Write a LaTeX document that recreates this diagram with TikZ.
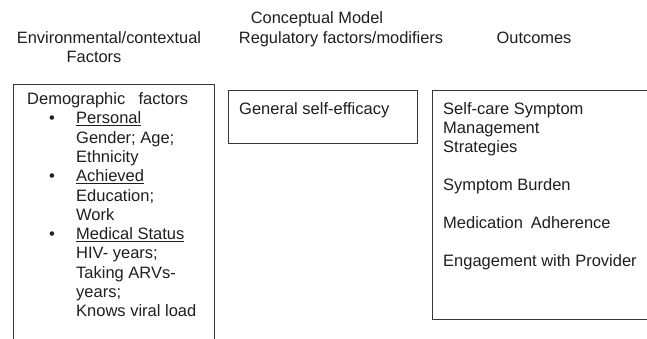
\documentclass[tikz,border=0pt]{standalone}
\usepackage{fontspec}
\setmainfont{Liberation Sans}
\begin{document}
\begin{tikzpicture}[x=1pt,y=-1pt,
  boxframe/.style={draw=black!78,line width=1.2pt,rectangle,inner sep=0pt,anchor=north west},
  txt/.style={anchor=base west,inner sep=0pt,text=black!88,font=\fontsize{16.5}{19.3}\selectfont},
  head/.style={anchor=base,inner sep=0pt,text=black!88,font=\fontsize{16.4}{19.3}\selectfont},
  bul/.style={anchor=base,inner sep=0pt,text=black!88,font=\fontsize{16.5}{19.3}\selectfont}]
\useasboundingbox[fill=white] (0,0) rectangle (647,339);
% headings
\node[head] (hcm) at (317,24) {Conceptual Model};
\node[head] (henv) at (109,44) {Environmental/contextual};
\node[head] (hfac) at (94,63) {Factors};
\node[head] (hreg) at (341,44) {Regulatory factors/modifiers};
\node[head] (hout) at (534,44) {Outcomes};
% boxes
\node[boxframe,minimum width=201pt,minimum height=280pt] (lbox) at (13,84) {};
\node[boxframe,minimum width=189pt,minimum height=53pt] (mbox) at (228,90) {};
\node[boxframe,minimum width=230pt,minimum height=229pt] (rbox) at (432,90) {};
% left box contents
\node[txt] (l1) at (27,104.5) {Demographic\hspace{0.8em}factors};
\node[bul] (b1) at (52,123.8) {\textbullet};
\node[txt] (l2) at (76,123.8) {\underline{Personal}};
\node[txt] (l3) at (76,143.1) {Gender; Age;};
\node[txt] (l4) at (76,162.4) {Ethnicity};
\node[bul] (b2) at (52,181.7) {\textbullet};
\node[txt] (l5) at (76,181.7) {\underline{Achieved}};
\node[txt] (l6) at (76,201.0) {Education;};
\node[txt] (l7) at (76,220.3) {Work};
\node[bul] (b3) at (52,239.6) {\textbullet};
\node[txt] (l8) at (76,239.6) {\underline{Medical Status}};
\node[txt] (l9) at (76,258.9) {HIV- years;};
\node[txt] (l10) at (76,278.2) {Taking ARVs-};
\node[txt] (l11) at (76,297.5) {years;};
\node[txt] (l12) at (76,316.8) {Knows viral load};
% middle box contents
\node[txt] (m1) at (239,114.5) {General self-efficacy};
% right box contents
\node[txt] (r1) at (443,114.5) {Self-care Symptom};
\node[txt] (r2) at (443,133.5) {Management};
\node[txt] (r3) at (443,152.5) {Strategies};
\node[txt] (r4) at (443,190.5) {Symptom Burden};
\node[txt] (r5) at (443,228.5) {Medication\hspace{0.2em} Adherence};
\node[txt] (r6) at (443,266.5) {Engagement with Provider};
\end{tikzpicture}
\end{document}
